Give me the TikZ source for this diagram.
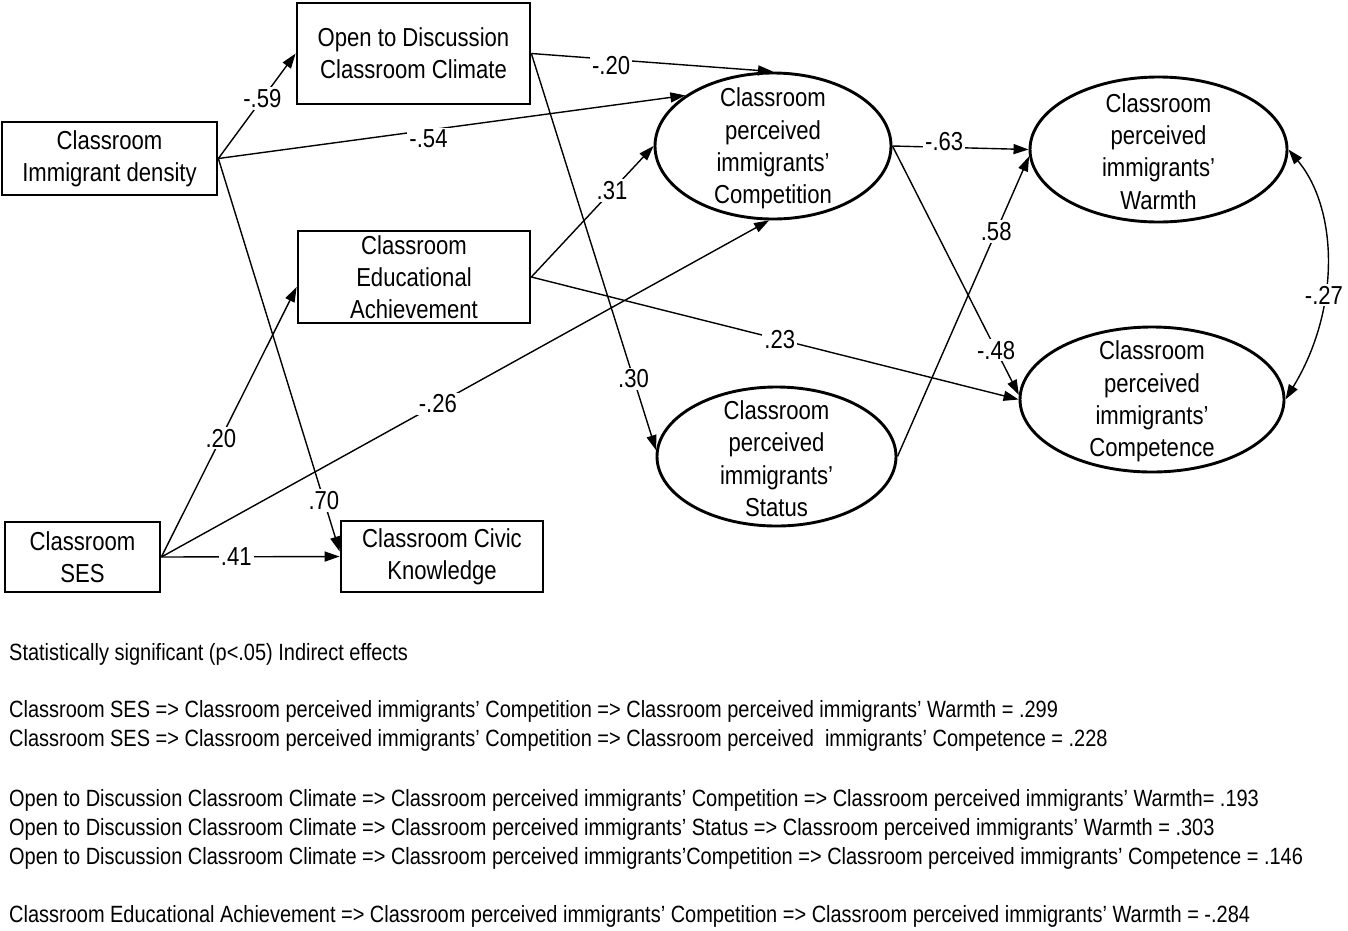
\documentclass[tikz,border=0pt]{standalone}
\usepackage{fontspec}
\setmainfont[FakeStretch=0.85]{Liberation Sans}
\usetikzlibrary{arrows.meta,shapes.geometric}
\begin{document}
\begin{tikzpicture}[x=1pt,y=-1pt,
  box/.style={draw,line width=2.7pt,inner sep=0pt,align=center,font=\fontsize{26}{32}\selectfont},
  lat/.style={draw,ellipse,line width=2.9pt,inner sep=0pt},
  ltxt/.style={align=center,inner sep=0pt,font=\fontsize{26}{32.4}\selectfont},
  conn/.style={line width=1.4pt,-{Triangle[length=15pt,width=10pt]}},
  biconn/.style={line width=1.4pt,{Triangle[length=15pt,width=10pt]}-{Triangle[length=15pt,width=10pt]}},
  lab/.style={fill=white,inner sep=2pt,font=\fontsize{26}{28}\selectfont},
  note/.style={anchor=west,inner sep=0pt,text height=17pt,text depth=5pt,font=\fontsize{23.5}{26}\selectfont},
]
\useasboundingbox (0,0) rectangle (1348,930);

% boxes
\node[box,minimum width=233pt,minimum height=101pt] (open) at (413.5,53.5) {Open to Discussion\\Classroom Climate};
\node[box,minimum width=215pt,minimum height=73pt] (dens) at (109.5,158.5) {Classroom\\Immigrant density};
\node[box,minimum width=232pt,minimum height=92pt] (edu) at (414,277) {Classroom\\Educational\\Achievement};
\node[box,minimum width=155pt,minimum height=70pt] (ses) at (82.5,557) {Classroom\\SES};
\node[box,minimum width=202pt,minimum height=71pt] (civ) at (442,556.5) {Classroom Civic\\Knowledge};

% latent ellipses
\node[lat,minimum width=236pt,minimum height=146pt] (comp) at (773,146) {};
\node[ltxt] (compt) at (773,148.5) {Classroom\\perceived\\immigrants’\\Competition};
\node[lat,minimum width=257pt,minimum height=145pt] (warm) at (1158.5,149.5) {};
\node[ltxt] (warmt) at (1158.5,151.5) {Classroom\\perceived\\immigrants’\\Warmth};
\node[lat,minimum width=239pt,minimum height=139pt] (stat) at (776.5,456.5) {};
\node[ltxt] (statt) at (776.5,458.5) {Classroom\\perceived\\immigrants’\\Status};
\node[lat,minimum width=264pt,minimum height=145pt] (cpt) at (1152,399.5) {};
\node[ltxt] (cptt) at (1152,401.5) {Classroom\\perceived\\immigrants’\\Competence};

% paths
\draw[conn] (dens.east) -- node[lab,pos=0.57] {-.59} (open.west);
\draw[conn] (dens.east) -- node[lab,pos=0.45,yshift=-9pt] {-.54} (comp.150);
\draw[conn] (dens.east) -- node[lab,pos=0.87] {.70} ([yshift=5pt]civ.west);
\draw[conn] (open.east) -- node[lab,pos=0.33,yshift=-6pt] {-.20} (comp.north);
\draw[conn] (open.east) -- node[lab,pos=0.82] {.30} (stat.177);
\draw[conn] (edu.east) -- node[lab,pos=0.66] {.31} (comp.west);
\draw[conn] (edu.east) -- node[lab,pos=0.51] {.23} (cpt.west);
\draw[conn] (ses.east) -- node[lab,pos=0.44] {.20} ([yshift=-10pt]edu.west);
\draw[conn] (ses.east) -- node[lab,pos=0.455] {-.26} (comp.267);
\draw[conn] (ses.east) -- node[lab,pos=0.42] {.41} (civ.west);
\draw[conn] (comp.east) -- node[lab,pos=0.38,yshift=6pt] {-.63} (warm.west);
\draw[conn] (comp.east) -- node[lab,pos=0.82] {-.48} (cpt.178);
\draw[conn] (stat.east) -- node[lab,pos=0.75] {.58} (warm.183);
\draw[biconn] (warm.east) .. controls +(50,60) and +(55,-90) .. node[lab,pos=0.62] {-.27} (cpt.east);

% notes
\node[note] (n0) at (9,654) {Statistically significant (p<.05) Indirect effects};
\node[note] (n1) at (9,711) {Classroom SES => Classroom perceived immigrants’ Competition => Classroom perceived immigrants’ Warmth = .299};
\node[note] (n2) at (9,740) {Classroom SES => Classroom perceived immigrants’ Competition => Classroom perceived \ immigrants’ Competence = .228};
\node[note] (n3) at (9,800) {Open to Discussion Classroom Climate => Classroom perceived immigrants’ Competition => Classroom perceived immigrants’ Warmth= .193};
\node[note] (n4) at (9,829) {Open to Discussion Classroom Climate => Classroom perceived immigrants’ Status => Classroom perceived immigrants’ Warmth = .303};
\node[note] (n5) at (9,858) {Open to Discussion Classroom Climate => Classroom perceived immigrants’Competition => Classroom perceived immigrants’ Competence = .146};
\node[note] (n6) at (9,916) {Classroom Educational Achievement => Classroom perceived immigrants’ Competition => Classroom perceived immigrants’ Warmth = -.284};
\end{tikzpicture}
\end{document}
